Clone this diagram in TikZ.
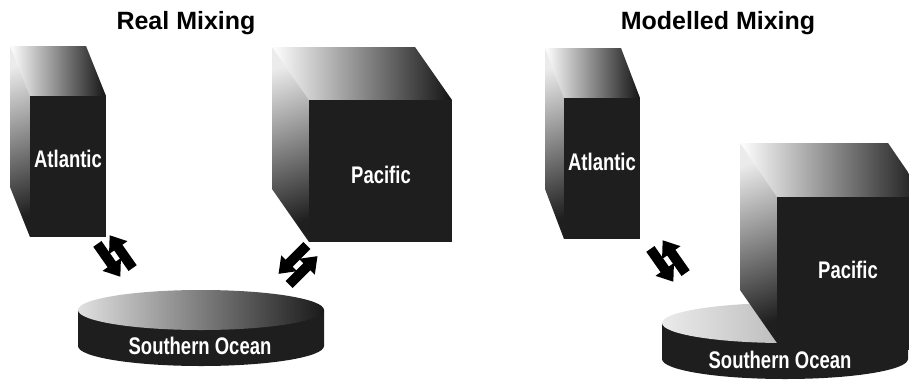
\documentclass[tikz,border=0pt]{standalone}
\usepackage{fontspec}
\setmainfont{Liberation Sans}
\newfontfamily\labelfont{Liberation Sans}[FakeStretch=0.77]
\definecolor{facedark}{HTML}{1E1E1E}

\tikzset{
  % pair of opposing block arrows, drawn pointing up/down before rotation
  exchange/.pic={
    \fill (2,16) -- (10,16) -- (10,-4) -- (15,-4) -- (6,-16) -- (-3,-4) -- (2,-4) -- cycle;
    \fill (-2,-16) -- (-10,-16) -- (-10,4) -- (-15,4) -- (-6,16) -- (3,4) -- (-2,4) -- cycle;
  }
}

\begin{document}
\begin{tikzpicture}[x=1pt,y=-1pt,
  frontface/.style={fill=facedark},
  topface/.style={left color=white, right color=black!92},
  sideface/.style={top color=white!92!black, bottom color=black!88, shading angle=20},
  disctop/.style={left color=black!12, right color=black!90},
  disctoplight/.style={left color=black!8, right color=black!45},
  discbody/.style={fill=facedark},
  boxlabel/.style={text=white, inner sep=0pt, anchor=base, font=\labelfont\bfseries\fontsize{24}{24}\selectfont},
  title/.style={inner sep=0pt, anchor=base, font=\bfseries\fontsize{25}{25}\selectfont}]

\useasboundingbox (0,0) rectangle (909,380);
\clip (0,0) rectangle (909,380);

% ---------------- Real Mixing ----------------
\node[title] (realT) at (186,29) {Real Mixing};

% Atlantic box
\shade[topface]  (10,46) -- (86,46) -- (106,96) -- (30,96) -- cycle;
\shade[sideface] (10,46) -- (30,96) -- (30,237) -- (10,187) -- cycle;
\fill[frontface] (30,96) rectangle (106,237);
\node[boxlabel] (atlL) at (68,167) {Atlantic};

% Pacific box
\shade[topface]  (272,47) -- (415,47) -- (452,100) -- (309,100) -- cycle;
\shade[sideface] (272,47) -- (309,100) -- (309,242) -- (272,189) -- cycle;
\fill[frontface] (309,100) rectangle (452,242);
\node[boxlabel] (pacL) at (381,183) {Pacific};

% Southern Ocean disc
\fill[discbody] (78,310) -- (78,346) arc[start angle=180, end angle=360, x radius=123, y radius=-20]
  -- (324,310) -- cycle;
\shade[disctop] (201,310) ellipse[x radius=123, y radius=20];
\node[boxlabel] (socL) at (200,354) {Southern Ocean};

% exchange arrows
\pic[rotate=35, scale=1.25] at (115,256) {exchange};
\pic[rotate=-45, scale=1.25] at (298,265) {exchange};

% ---------------- Modelled Mixing ----------------
\node[title] (modT) at (718,29) {Modelled Mixing};

% Atlantic box
\shade[topface]  (545,48) -- (621,48) -- (640,98) -- (564,98) -- cycle;
\shade[sideface] (545,48) -- (564,98) -- (564,239) -- (545,189) -- cycle;
\fill[frontface] (564,98) rectangle (640,239);
\node[boxlabel] (atlR) at (602,170) {Atlantic};

% Southern Ocean disc
\fill[discbody] (662,323) -- (662,359) arc[start angle=180, end angle=360, x radius=123, y radius=-20]
  -- (908,323) -- cycle;
\shade[disctoplight] (785,323) ellipse[x radius=123, y radius=20];

% Pacific box resting on the disc
\shade[topface]  (740,143) -- (888,143) -- (925,197) -- (777,197) -- cycle;
\shade[sideface] (740,143) -- (777,197) -- (777,343) -- (740,290) -- cycle;
\fill[frontface] (777,197) rectangle (925,350);
\node[boxlabel] (pacR) at (848,278) {Pacific};
\node[boxlabel] (socR) at (780,368) {Southern Ocean};

% exchange arrows
\pic[rotate=35, scale=1.25] at (668,261) {exchange};
\end{tikzpicture}
\end{document}
